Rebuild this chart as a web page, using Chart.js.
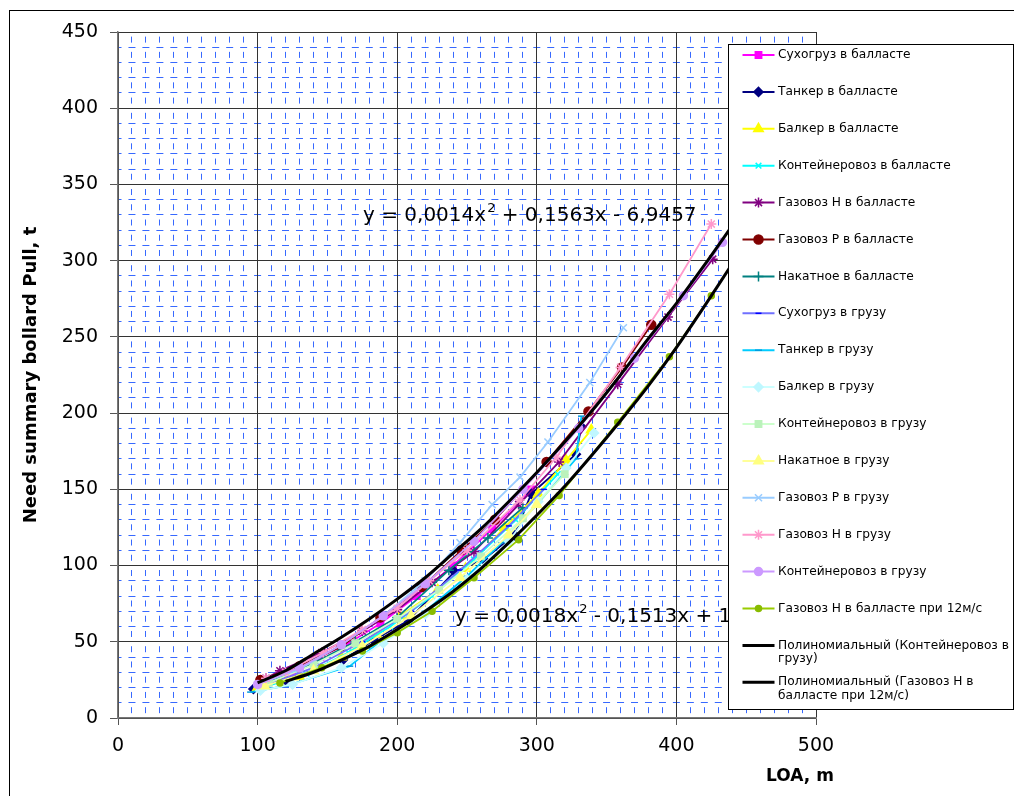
<!DOCTYPE html>
<html>
<head>
<meta charset="utf-8">
<script src="https://cdn.jsdelivr.net/npm/chart.js@4.4.0/dist/chart.umd.min.js"></script>
<style>
  html, body { margin: 0; padding: 0; background: #fff; }
  #wrap { position: relative; width: 1014px; height: 796px; }
</style>
</head>
<body>
<div id="wrap"><canvas id="chart" width="1014" height="796"></canvas></div>
<script>
// values, [LOA m, bollard pull t]
const sukhBallast      = [[104,22],[125,29],[145,40],[165,49],[188,62],[214,80],[240,100],[268,124],[296,150]];
const tankerBallast    = [[97,19],[120,25],[161,38],[183,51],[208,64],[241,96],[262,104],[284,120],[296,147],[328,173],[332,191]];
const bulkerBallast    = [[100,20],[130,27],[160,40],[185,55],[202,67],[229,84],[249,98],[277,125],[301,147],[321,169],[339,189]];
const containerBallast = [[104,20],[135,29],[165,43],[195,60],[225,80],[255,104],[285,130],[315,160]];
const gasHBallast      = [[106,26],[116,31],[146,43],[175,57],[200,71],[225,89],[255,109],[287,140],[316,168],[358,219],[394,263],[426,301]];
const gasRBallast      = [[102,25],[130,34],[160,47],[188,66],[218,86],[246,110],[270,130],[307,168],[337,201],[361,230],[382,258]];
const rollBallast      = [[108,24],[140,36],[170,50],[200,66],[237,97],[265,118],[290,138]];
const sukhCargo        = [[105,21],[140,33],[175,50],[210,70],[245,97],[280,126],[305,150]];
const tankerCargo      = [[95,17],[120,21],[166,34],[190,52],[220,70],[250,93],[275,115],[300,140],[328,170],[332,198]];
const bulkerCargo      = [[102,18],[125,22],[160,33],[190,49],[220,68],[250,91],[280,116],[301,142],[321,164],[341,187]];
const containerCargo   = [[108,23],[140,35],[170,49],[200,65],[230,84],[260,106],[290,131],[320,160]];
const rollCargo        = [[105,21],[140,31],[175,47],[210,67],[245,92],[280,120],[300,140]];
const gasRCargo        = [[100,22],[130,32],[160,48],[190,67],[220,90],[245,115],[268,140],[288,158],[308,181],[338,220],[362,256]];
const gasHCargo        = [[106,26],[120,30],[147,43],[175,58],[200,72],[223,90],[250,110],[288,143],[314,171],[360,230],[395,278],[425,324]];
const containerCargo2  = [[100,22],[130,33],[160,48],[190,67],[220,88],[255,116],[290,150],[330,190],[370,236],[405,277],[433,312]];
const gasH12           = [[116,23],[146,33],[175,44],[200,56],[225,70],[255,92],[287,117],[316,146],[358,194],[395,237],[425,277]];

// trend lines
const upperTrendX = [100,120,140,160,180,200,220,240,260,280,300,320,340,360,380,400,420,440];
const upperTrendY = [23,31,42,53,65,78,92,108,124,142,161,181,202,225,249,272,297,323];
const lowerTrendX = [120,140,160,180,200,220,240,260,280,300,320,340,360,380,400,420,440];
const lowerTrendY = [24,30,38,47,58,70,83,98,115,133,152,173,195,218,243,270,298];

const seriesNames = [
  'Сухогруз в балласте', 'Танкер в балласте', 'Балкер в балласте', 'Контейнеровоз в балласте',
  'Газовоз Н в балласте', 'Газовоз Р в балласте', 'Накатное в балласте', 'Сухогруз в грузу',
  'Танкер в грузу', 'Балкер в грузу', 'Контейнеровоз в грузу', 'Накатное в грузу',
  'Газовоз Р в грузу', 'Газовоз Н в грузу', 'Контейнеровоз в грузу', 'Газовоз Н в балласте при 12м/с'
];
const seriesData = [
  sukhBallast, tankerBallast, bulkerBallast, containerBallast, gasHBallast, gasRBallast, rollBallast, sukhCargo,
  tankerCargo, bulkerCargo, containerCargo, rollCargo, gasRCargo, gasHCargo, containerCargo2, gasH12
];
const trendNames = [
  ['Полиномиальный (Контейнеровоз в', 'грузу)'],
  ['Полиномиальный (Газовоз Н в', 'балласте при 12м/с)']
];
const upperEq = ['y = 0,0014x', '2', ' + 0,1563x - 6,9457'];
const lowerEq = ['y = 0,0018x', '2', ' - 0,1513x + 1'];

// styles
const seriesStyle = [
  { line: '#FF00FF', mark: '#FF00FF', style: 'rect', r: 4.5 },
  { line: '#000080', mark: '#000080', style: 'rectRot', r: 4.5 },
  { line: '#FFFF00', mark: '#FFFF00', style: 'triangle', r: 5.5 },
  { line: '#00FFFF', mark: '#00FFFF', style: 'crossRot', r: 4 },
  { line: '#800080', mark: '#800080', style: 'star', r: 5 },
  { line: '#800000', mark: '#800000', style: 'circle', r: 4.5 },
  { line: '#008080', mark: '#008080', style: 'cross', r: 5 },
  { line: '#7070FF', mark: '#0000FF', style: 'line', r: 3 },
  { line: '#00CCFF', mark: '#0099DD', style: 'line', r: 3.5 },
  { line: '#CCFFFF', mark: '#BFF7FF', style: 'rectRot', r: 4.5 },
  { line: '#CCFFCC', mark: '#BBF2BB', style: 'rect', r: 4.5 },
  { line: '#FFFF99', mark: '#FFFF80', style: 'triangle', r: 5.5 },
  { line: '#99CCFF', mark: '#99CCFF', style: 'crossRot', r: 5 },
  { line: '#FF99CC', mark: '#FF99CC', style: 'star', r: 5 },
  { line: '#CC99FF', mark: '#CC99FF', style: 'circle', r: 4 },
  { line: '#99CC00', mark: '#88BB00', style: 'circle', r: 3 }
];
const FONT = "'DejaVu Sans', 'Liberation Sans', sans-serif";
const MINOR = 'rgb(55,105,255)';

const datasets = seriesData.map((pts, i) => ({
  label: seriesNames[i],
  data: pts.map(p => ({ x: p[0], y: p[1] })),
  showLine: true,
  borderColor: seriesStyle[i].line,
  backgroundColor: seriesStyle[i].mark,
  pointBorderColor: seriesStyle[i].mark,
  pointBackgroundColor: seriesStyle[i].mark,
  pointStyle: seriesStyle[i].style,
  pointRadius: seriesStyle[i].r,
  pointBorderWidth: 1.5,
  borderWidth: 1.8,
  tension: 0,
  order: 100 - i,
  xAxisID: 'x',
  yAxisID: 'y'
}));

[[upperTrendX, upperTrendY, trendNames[0]], [lowerTrendX, lowerTrendY, trendNames[1]]].forEach(([xs, ys, name], k) => {
  datasets.push({
    label: name.join(' '),
    data: xs.map((x, j) => ({ x: x, y: ys[j] })),
    showLine: true,
    borderColor: '#000',
    backgroundColor: '#000',
    borderWidth: 3,
    pointRadius: 0,
    tension: 0.3,
    order: 1 - k,
    xAxisID: 'x',
    yAxisID: 'y'
  });
});

function drawEquation(ctx, parts, x, base) {
  ctx.font = `20px ${FONT}`;
  ctx.fillText(parts[0], x, base);
  x += ctx.measureText(parts[0]).width;
  ctx.font = `13px ${FONT}`;
  ctx.fillText(parts[1], x + 1, base - 9);
  x += ctx.measureText(parts[1]).width + 1;
  ctx.font = `20px ${FONT}`;
  ctx.fillText(parts[2], x, base);
}

function drawMarker(ctx, st, x, y) {
  ctx.fillStyle = st.mark;
  ctx.strokeStyle = st.mark;
  ctx.lineWidth = 1.5;
  if (Chart.helpers && Chart.helpers.drawPoint) {
    Chart.helpers.drawPoint(ctx, { pointStyle: st.style, radius: st.r, rotation: 0, borderWidth: 1.5 }, x, y);
  } else {
    ctx.beginPath(); ctx.arc(x, y, st.r, 0, Math.PI * 2); ctx.fill();
  }
}

const overlay = {
  id: 'overlay',
  afterDatasetsDraw(chart) {
    const ctx = chart.ctx;
    ctx.save();
    ctx.fillStyle = '#000';
    ctx.textAlign = 'left';
    ctx.textBaseline = 'alphabetic';
    drawEquation(ctx, upperEq, 363, 221);
    drawEquation(ctx, lowerEq, 455, 622);
    ctx.restore();
  },
  afterDraw(chart) {
    const ctx = chart.ctx;
    ctx.save();
    // legend box over the plot
    const L = 728.5, T = 44.5, R = 1013.5, B = 709.5;
    ctx.fillStyle = '#fff';
    ctx.fillRect(L, T, R - L, B - T);
    ctx.strokeStyle = '#000';
    ctx.lineWidth = 1;
    ctx.strokeRect(L, T, R - L, B - T);
    ctx.textAlign = 'left';
    ctx.textBaseline = 'middle';
    seriesNames.forEach((name, i) => {
      const y = 55 + i * 36.9;
      const st = seriesStyle[i];
      ctx.strokeStyle = st.line;
      ctx.lineWidth = 2;
      ctx.beginPath(); ctx.moveTo(742.5, y); ctx.lineTo(774.5, y); ctx.stroke();
      drawMarker(ctx, st, 758.5, y);
      ctx.fillStyle = '#000';
      ctx.font = `12.2px ${FONT}`;
      ctx.fillText(name, 778, y);
    });
    trendNames.forEach((lines, k) => {
      const y = 55 + (16 + k) * 36.9;
      ctx.strokeStyle = '#000';
      ctx.lineWidth = 3;
      ctx.beginPath(); ctx.moveTo(742.5, y); ctx.lineTo(774.5, y); ctx.stroke();
      ctx.fillStyle = '#000';
      ctx.font = `12.2px ${FONT}`;
      lines.forEach((t, j) => ctx.fillText(t, 778, y + j * 13.5));
    });
    // x axis title
    ctx.font = `bold 17px ${FONT}`;
    ctx.textAlign = 'center';
    ctx.fillText('LOA, m', 800, 777);
    // outer chart border
    ctx.strokeStyle = '#000';
    ctx.lineWidth = 1;
    ctx.strokeRect(9.5, 10.5, 1010, 790);
    ctx.restore();
  }
};

new Chart(document.getElementById('chart'), {
  type: 'scatter',
  data: { datasets },
  options: {
    responsive: false,
    animation: false,
    layout: { padding: { left: 0, right: 198, top: 32, bottom: 0 } },
    plugins: {
      legend: { display: false },
      tooltip: { enabled: false }
    },
    scales: {
      x: {
        type: 'linear',
        position: 'bottom',
        min: 0,
        max: 500,
        ticks: { stepSize: 100, color: '#000', font: { family: FONT, size: 19 }, padding: 10, maxRotation: 0 },
        grid: { color: '#333', lineWidth: 1, tickLength: 7, tickColor: '#555' },
        border: { color: '#777', width: 1.5 },
        afterFit: s => { s.height = 78; }
      },
      y: {
        position: 'left',
        min: 0,
        max: 450,
        ticks: { stepSize: 50, color: '#000', font: { family: FONT, size: 19 }, padding: 12 },
        grid: { color: '#333', lineWidth: 1, tickLength: 8, tickColor: '#555' },
        border: { color: '#777', width: 1.5 },
        title: {
          display: true,
          text: 'Need summary bollard Pull, t',
          color: '#000',
          font: { family: FONT, size: 18, weight: 'bold' },
          padding: { top: 21, bottom: 0 }
        },
        afterFit: s => { s.width = 118; }
      },
      xm: {
        type: 'linear',
        position: 'bottom',
        min: 0,
        max: 500,
        ticks: { display: false, stepSize: 10 },
        grid: { color: MINOR, lineWidth: 1, drawTicks: false, z: -2 },
        border: { display: false, dash: [6, 9.24], dashOffset: 10.62 },
        afterFit: s => { s.height = 0; }
      },
      ym: {
        type: 'linear',
        position: 'left',
        min: 0,
        max: 450,
        ticks: { display: false, stepSize: 10 },
        grid: { color: MINOR, lineWidth: 1, drawTicks: false, z: -2 },
        border: { display: false, dash: [7, 6.96], dashOffset: 3.5 },
        afterFit: s => { s.width = 0; }
      }
    }
  },
  plugins: [overlay]
});
</script>
</body>
</html>
